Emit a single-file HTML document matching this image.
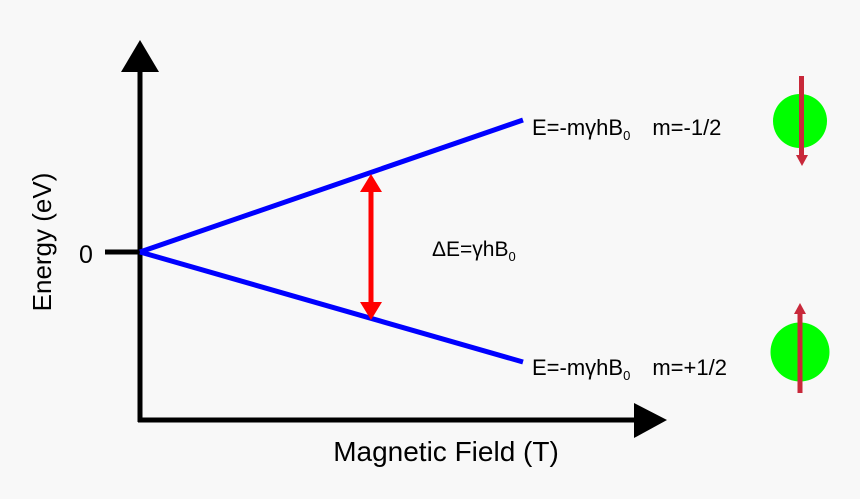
<!DOCTYPE html>
<html><head><style>body{margin:0;background:#f8f8f8}</style></head><body>
<svg width="860" height="499" xmlns="http://www.w3.org/2000/svg" style="display:block;background:#f8f8f8">
<g font-family="Liberation Sans, sans-serif" fill="#000">
<line x1="140" y1="68" x2="140" y2="422" stroke="#000" stroke-width="5"/>
<polygon points="121,72 159,72 140,40" fill="#000"/>
<line x1="138" y1="420" x2="636" y2="420" stroke="#000" stroke-width="5"/>
<polygon points="634,403 634,438 667,420" fill="#000"/>
<line x1="105" y1="252" x2="140" y2="252" stroke="#000" stroke-width="5"/>
<text x="79" y="263" font-size="25">0</text>
<text transform="translate(51,242) rotate(-90)" text-anchor="middle" font-size="26">Energy (eV)</text>
<text x="446" y="461" text-anchor="middle" font-size="28">Magnetic Field (T)</text>
<line x1="140" y1="252" x2="523" y2="120" stroke="#0000ff" stroke-width="5"/>
<line x1="140" y1="252" x2="523" y2="362" stroke="#0000ff" stroke-width="5"/>
<line x1="371" y1="188" x2="371" y2="306" stroke="#ff0000" stroke-width="5"/>
<polygon points="360,192 382,192 371,174" fill="#ff0000"/>
<polygon points="360,302 382,302 371,320" fill="#ff0000"/>
<text x="532" y="135" font-size="22">E=-mγhB<tspan font-size="13" dy="5">0</tspan><tspan dy="-5" dx="22">m=-1/2</tspan></text>
<text x="532" y="375" font-size="22">E=-mγhB<tspan font-size="13" dy="5">0</tspan><tspan dy="-5" dx="22">m=+1/2</tspan></text>
<text x="432" y="256" font-size="21">ΔE=γhB<tspan font-size="13" dy="5">0</tspan></text>
<circle cx="800" cy="121" r="27" fill="#00ff00"/>
<circle cx="800" cy="352" r="29.5" fill="#00ff00"/>
<line x1="801.5" y1="76" x2="801.5" y2="158" stroke="#c8283a" stroke-width="5"/>
<polygon points="796,155 808,155 802,166" fill="#c8283a"/>
<line x1="800" y1="312" x2="800" y2="393" stroke="#c8283a" stroke-width="5"/>
<polygon points="794,314 806,314 800,303" fill="#c8283a"/>
</g>
</svg>
</body></html>
